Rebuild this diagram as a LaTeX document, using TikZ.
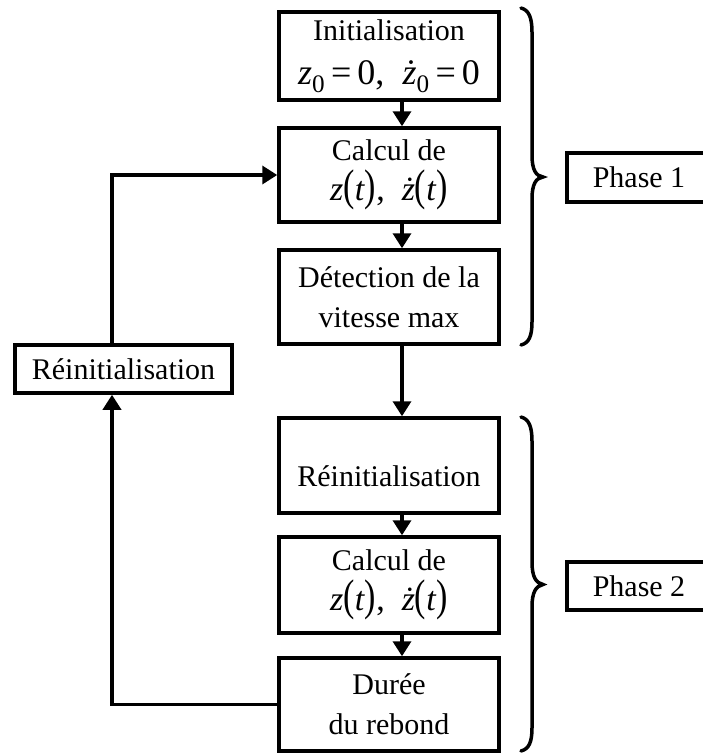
\documentclass[tikz,border=0pt]{standalone}
\usepackage{fontspec}
\setmainfont{Liberation Serif}
\usetikzlibrary{arrows.meta}
\newcommand{\zd}{\textit{\.z}}
\newcommand{\pl}{\scalebox{1}[1.3]{(}}
\newcommand{\pr}{\scalebox{1}[1.3]{)}}
\begin{document}
\begin{tikzpicture}[x=1pt,y=-1pt,
  box/.style={draw,line width=3.5pt,inner sep=0pt,align=center,
    font=\fontsize{30}{40}\selectfont},
  mainbox/.style={box,minimum width=220pt},
  arr/.style={-{Triangle[width=18pt,length=15pt]},line width=3.5pt},
  brc/.style={line width=3.5pt,line cap=round}]
\useasboundingbox (0,0) rectangle (703,753);
\clip (0,0) rectangle (703,753);
\coordinate (ax) at (402,0);
\coordinate (lx) at (112,0);
\node[mainbox,minimum height=88pt] (b1) at (389,56)
  {Initialisation\\[4pt]{\fontsize{36}{36}\selectfont\textit{z}\textsubscript{0}\,=\,0,\ \ \zd\textsubscript{0}\,=\,0}};
\node[mainbox,minimum height=94pt] (b2) at (389,175)
  {Calcul de\\{\fontsize{34}{34}\selectfont\textit{z}\pl\textit{t}\pr,\ \ \zd\pl\textit{t}\pr}};
\node[mainbox,minimum height=94pt] (b3) at (389,297)
  {Détection de la\\vitesse max};
\node[mainbox,minimum height=95pt] (b4) at (389,465.5)
  {\rule{0pt}{42pt}Réinitialisation};
\node[mainbox,minimum height=96pt] (b5) at (389,585)
  {Calcul de\\{\fontsize{34}{34}\selectfont\textit{z}\pl\textit{t}\pr,\ \ \zd\pl\textit{t}\pr}};
\node[mainbox,minimum height=93pt] (b6) at (389,704.5)
  {Durée\\du rebond};
\node[box,minimum width=217pt,minimum height=48pt] (r) at (123.5,369)
  {Réinitialisation};
\node[box,minimum width=144pt,minimum height=49pt] (p1) at (639,177.5)
  {Phase 1};
\node[box,minimum width=144pt,minimum height=48pt] (p2) at (639,586)
  {Phase 2};
\draw[arr] (b1.south -| ax) -- (b2.north -| ax);
\draw[arr] (b2.south -| ax) -- (b3.north -| ax);
\draw[arr] (b3.south -| ax) -- (b4.north -| ax);
\draw[arr] (b4.south -| ax) -- (b5.north -| ax);
\draw[arr] (b5.south -| ax) -- (b6.north -| ax);
\draw[arr] (r.north -| lx) |- (b2.west);
\draw[arr] (b6.west) -| (r.south -| lx);
% braces
\draw[brc] (521,8) .. controls (529,10) and (532,18) .. (532,32) -- (532,155)
  .. controls (532,170) and (536,176) .. (543,177)
  .. controls (536,178) and (532,184) .. (532,199) -- (532,322)
  .. controls (532,336) and (529,343) .. (521,345);
\draw[brc] (521,417) .. controls (529,419) and (532,427) .. (532,441) -- (532,562)
  .. controls (532,577) and (536,583) .. (543,584.5)
  .. controls (536,586) and (532,592) .. (532,607) -- (532,728)
  .. controls (532,742) and (529,749) .. (521,751);
\end{tikzpicture}
\end{document}
